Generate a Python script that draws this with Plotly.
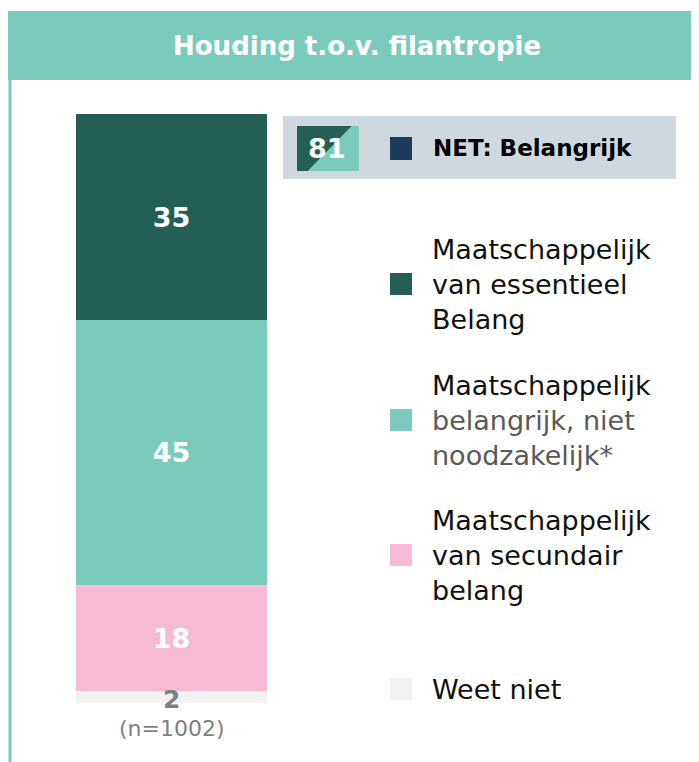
import plotly.graph_objects as go

# Data
categories = ["Weet niet",
              "Maatschappelijk van secundair belang",
              "Maatschappelijk belangrijk, niet noodzakelijk*",
              "Maatschappelijk van essentieel Belang"]
values = [2, 18, 45, 35]
colors = ["#F2F2F2", "#F6BAD4", "#7BCBBD", "#235F55"]
net_label = "NET: Belangrijk"
net_value = 81
sample_note = "(n=1002)"
title_text = "Houding t.o.v. filantropie"

# page body has an 8px margin, so the figure is a bit smaller than the window
OFF = 8
W, H = 699 - OFF, 762 - OFF
FONT = "DejaVu Sans"


def px(x):
    return (x - OFF) / W


def py(y):
    return 1 - (y - OFF) / H


fig = go.Figure()

# Stacked bar, bottom to top
for cat, val, col in zip(categories, values, colors):
    show_txt = val >= 5
    fig.add_trace(go.Bar(
        x=["total"],
        y=[val],
        name=cat,
        marker=dict(color=col, line=dict(width=0)),
        width=1,
        text=[str(val)] if show_txt else None,
        textposition="inside",
        insidetextanchor="middle",
        textfont=dict(family=FONT, size=27, color="white", weight="bold"),
        showlegend=False,
        hoverinfo="skip",
    ))

shapes = []
# Title banner and left border line
shapes.append(dict(type="rect", xref="paper", yref="paper",
                   x0=0, x1=1, y0=py(80), y1=py(11),
                   fillcolor="#7BCBBD", line=dict(width=0), layer="below"))
shapes.append(dict(type="line", xref="paper", yref="paper",
                   x0=px(10), x1=px(10), y0=0, y1=py(11),
                   line=dict(color="#7BCBBD", width=3)))

# NET box
shapes.append(dict(type="rect", xref="paper", yref="paper",
                   x0=px(283), x1=px(676), y0=py(179), y1=py(116),
                   fillcolor="#D0D8DF", line=dict(width=0), layer="below"))
shapes.append(dict(type="path", xref="paper", yref="paper",
                   path=f"M {px(297)} {py(126)} L {px(352)} {py(126)} L {px(308)} {py(171)} L {px(297)} {py(171)} Z",
                   fillcolor="#235F55", line=dict(width=0)))
shapes.append(dict(type="path", xref="paper", yref="paper",
                   path=f"M {px(352)} {py(126)} L {px(359)} {py(126)} L {px(359)} {py(171)} L {px(308)} {py(171)} Z",
                   fillcolor="#7BCBBD", line=dict(width=0)))
shapes.append(dict(type="rect", xref="paper", yref="paper",
                   x0=px(390), x1=px(412), y0=py(160), y1=py(137),
                   fillcolor="#1B3A5E", line=dict(width=0)))

annotations = [
    dict(x=px(357), y=py(46), xref="paper", yref="paper", text="<b>" + title_text + "</b>",
         showarrow=False, xanchor="center", yanchor="middle",
         font=dict(family=FONT, size=26, color="white")),
    dict(x=px(327), y=py(148), xref="paper", yref="paper", text="<b>" + str(net_value) + "</b>",
         showarrow=False, xanchor="center", yanchor="middle",
         font=dict(family=FONT, size=27, color="white")),
    dict(x=px(431), y=py(148), xref="paper", yref="paper", text="<b>" + net_label + "</b>",
         showarrow=False, xanchor="left", yanchor="middle",
         font=dict(family=FONT, size=23, color="black")),
    # small segment label and sample size below the bar
    dict(x="total", y=0, xref="x", yref="y", text="<b>" + str(values[0]) + "</b>",
         showarrow=False, yanchor="middle", yshift=4,
         font=dict(family=FONT, size=25, color="#7F7F7F")),
    dict(x="total", y=0, xref="x", yref="y", text=sample_note,
         showarrow=False, yanchor="middle", yshift=-25,
         font=dict(family=FONT, size=22, color="#7F7F7F")),
]

# Custom legend entries (top to bottom)
legend_rows = [
    (colors[3], 284, "Maatschappelijk<br>van essentieel<br>Belang"),
    (colors[2], 420, "Maatschappelijk<br><span style='color:#595959'>belangrijk, niet<br>noodzakelijk*</span>"),
    (colors[1], 555, "Maatschappelijk<br>van secundair<br>belang"),
    (colors[0], 689, "Weet niet"),
]
for col, yc, txt in legend_rows:
    shapes.append(dict(type="rect", xref="paper", yref="paper",
                       x0=px(390), x1=px(412), y0=py(yc + 11), y1=py(yc - 11),
                       fillcolor=col, line=dict(width=0)))
    annotations.append(dict(x=px(430), y=py(yc), xref="paper", yref="paper", text=txt,
                            showarrow=False, xanchor="left", yanchor="middle", align="left",
                            font=dict(family=FONT, size=27, color="#111111")))

fig.update_layout(
    width=W, height=H,
    margin=dict(l=0, r=0, t=0, b=0),
    paper_bgcolor="white",
    plot_bgcolor="white",
    barmode="stack",
    bargap=0,
    xaxis=dict(domain=[px(76), px(267)], range=[-0.5, 0.5], visible=False, fixedrange=True),
    yaxis=dict(domain=[py(703), py(114)], range=[0, 100], visible=False, fixedrange=True),
    shapes=shapes,
    annotations=annotations,
)

fig.write_html("out.html")
